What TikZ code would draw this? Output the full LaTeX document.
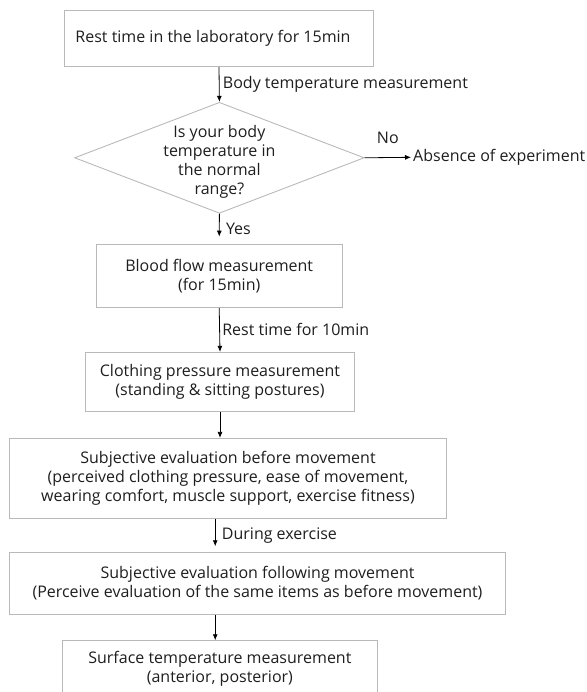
\documentclass[tikz,border=0pt]{standalone}
\usepackage{fontspec}
\setmainfont{Open Sans}
\usepackage{xcolor}
\usetikzlibrary{shapes.geometric}
\usetikzlibrary{arrows.meta}

\definecolor{framegray}{RGB}{185,185,185}
\definecolor{inkgray}{RGB}{30,30,30}

\begin{document}
\begin{tikzpicture}[x=1pt,y=-1pt,
            stage/.style={draw=framegray, line width=0.9pt, rectangle, align=center, inner sep=0pt,
                font=\fontsize{16}{19}\selectfont, text=inkgray},
            flow/.style={-{Latex[length=6pt,width=5pt]}, line width=0.8pt, black},
            note/.style={font=\fontsize{16}{19}\selectfont, text=inkgray}]
            \useasboundingbox (0,0) rectangle (586,692);
            \coordinate (lowaxis) at (215.2,0);

            \node[stage, minimum width=309.4, minimum height=56] (rest) at (219,38.7)
                {\hspace*{-12pt}Rest time in the laboratory for 15min};
            \node[diamond, draw=framegray, line width=0.9pt, minimum width=289.6, minimum height=111, inner sep=0pt,
                label={[note, align=center, yshift=-4pt]center:Is your body\\temperature in\\the normal\\range?}]
                (check) at (219.4,157.8) {};
            \node[note, anchor=west, inner sep=2pt] (absent) at (411,157.3) {Absence of experiment};
            \node[stage, minimum width=246.3, minimum height=63.3] (blood) at (219.2,275.7)
                {Blood flow measurement\\(for 15min)};
            \node[stage, minimum width=268.7, minimum height=59] (pressure) at (220,381.8)
                {Clothing pressure measurement\\(standing \& sitting postures)};
            \node[stage, minimum width=437.3, minimum height=79.7] (before) at (228,478.2)
                {Subjective evaluation before movement\\(perceived clothing pressure, ease of movement,\\wearing comfort, muscle support, exercise fitness)};
            \node[stage, minimum width=496.3, minimum height=61.6] (after) at (257.5,583.5)
                {Subjective evaluation following movement\\(Perceive evaluation of the same items as before movement)};
            \node[stage, minimum width=315, minimum height=56] (surface) at (219.9,668.7)
                {Surface temperature measurement\\(anterior, posterior)};

            \draw [flow] (rest.south) -- (check.north)
            node[note, midway, right] {Body temperature measurement};
            \draw [flow] (check.east) -- (absent.west)
            node[note, midway, above=10pt] {No};
            \draw [flow, shorten >=7pt] (check.south) -- (blood.north)
            node[note, midway, right, xshift=3pt] {Yes};
            \draw [flow] (blood.south) -- (pressure.north)
            node[note, midway, right, xshift=-1pt] {Rest time for 10min};
            \draw [flow] (pressure.south) -- (before.north -| pressure.south);
            \draw [flow, shorten >=6pt] (before.south -| lowaxis) -- (after.north -| lowaxis)
            node[note, midway, right, xshift=3pt] {During exercise};
            \draw [flow] (after.south -| lowaxis) -- (surface.north -| lowaxis);
        \end{tikzpicture}
\end{document}
